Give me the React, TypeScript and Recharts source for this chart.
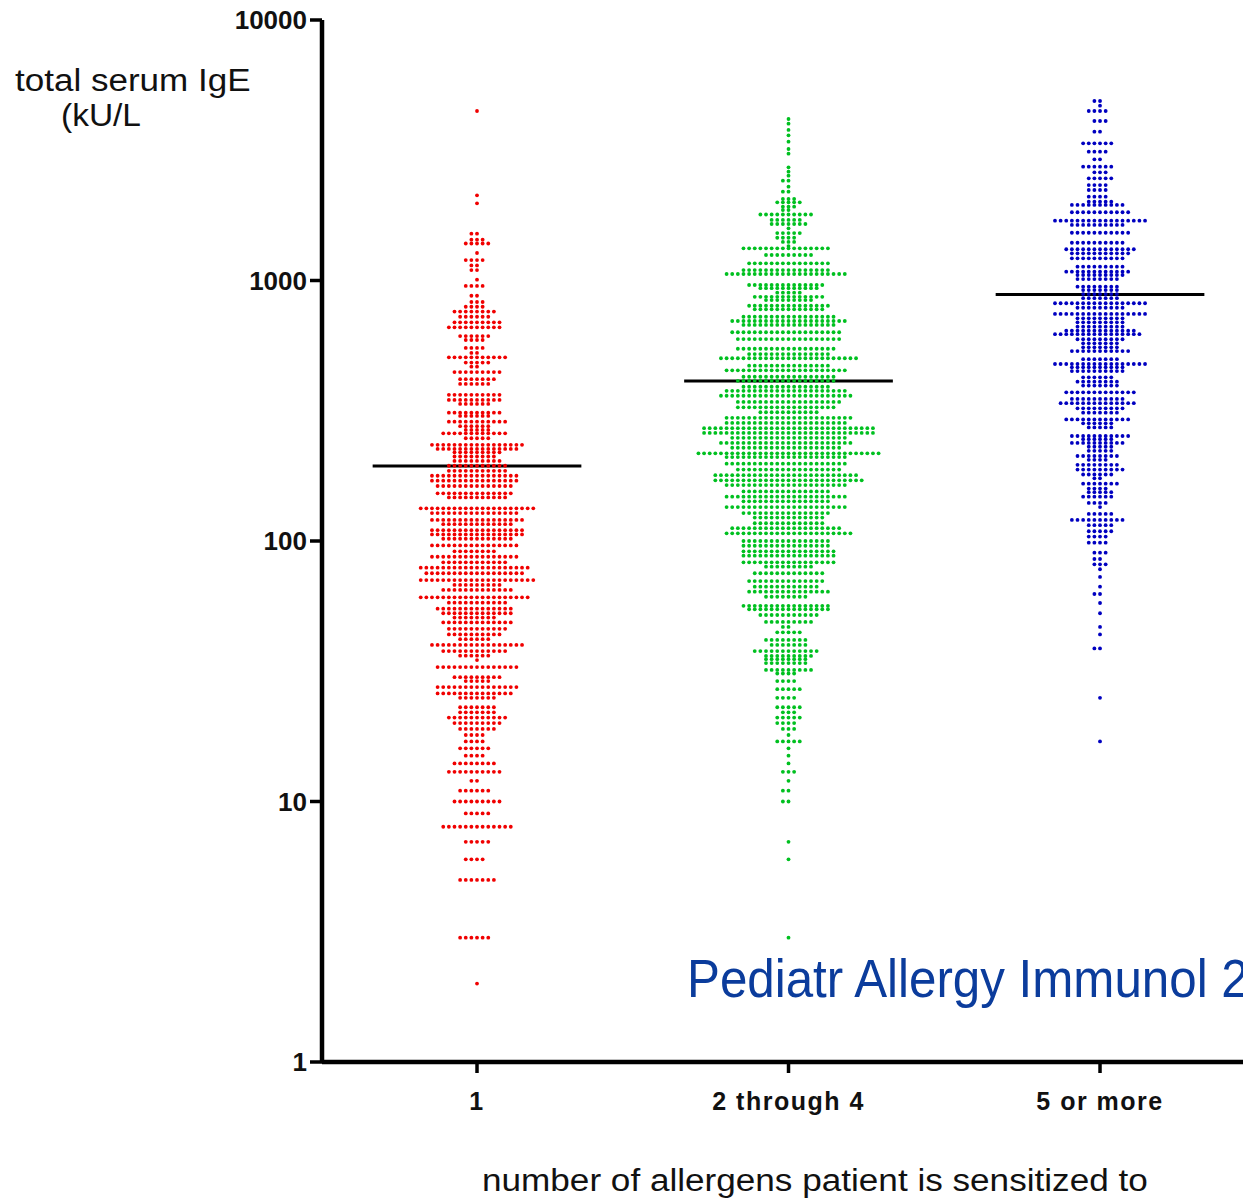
import React from 'react';
import { ScatterChart, Scatter, XAxis, YAxis, ReferenceLine } from 'recharts';

const groups = ['1', '2 through 4', '5 or more'];
const yTicks = [1, 10, 100, 1000, 10000];
const medians = [194, 411, 884];

// [IgE value, how many patients sit side by side at that value]
const redRows = [
    [2, 1], [3, 6], [5, 7], [6, 4], [7, 5], [8, 13], [9, 5], [10, 9], [11, 6], [12, 2], [13, 10], [14, 8],
    [15, 4], [16, 6], [17, 4], [18, 4], [19, 7], [20, 9], [21, 11], [22, 7], [23, 7], [25, 7], [26, 14],
    [27.5, 15], [29, 5], [30, 9], [32.8, 15], [34.9, 1], [36.3, 6], [37.8, 12], [39.9, 17],
    [42, 6], [43.8, 10], [46, 11], [48.7, 13], [50.8, 8], [52.8, 13], [55, 14], [58, 11],
    [60.8, 20], [64.9, 13], [67.8, 9], [70.8, 21], [75.2, 18], [79, 20], [82.8, 12], [87, 16],
    [91.3, 8], [96.2, 16], [102, 13], [106, 17], [110, 17], [116, 13], [120.5, 17], [128, 16], [133.5, 21],
    [147, 11], [152.4, 14], [162.6, 14], [170.4, 16], [178, 16], [186, 11],
    [194.5, 11], [203, 9], [211, 8], [219, 9], [225.6, 15], [234, 17], [248, 5], [259, 12], [267, 5],
    [276, 6], [287, 11], [302, 6], [311, 10], [336, 6], [348, 10], [364, 10], [401, 6], [418, 7],
    [445, 9], [467, 2], [484, 5], [507, 11], [527, 2], [551, 4], [591, 4], [612, 6],
    [661, 10], [691, 9], [726, 6], [760, 8], [793, 4], [827, 3], [874, 2], [953, 4], [1007, 1], [1097, 2],
    [1143, 2], [1198, 4], [1275, 1], [1387, 5], [1434, 3], [1513, 2], [1978, 1], [2124, 1], [4474, 1],
];

const greenRows = [
    [3, 1], [6, 1], [7, 1], [10, 2], [11, 2], [12, 1], [13, 3], [14, 1], [15, 1], [16, 1], [17, 5], [18, 1],
    [19, 3], [20, 4], [21, 5], [22, 3], [23, 5], [25, 4], [27, 5], [29, 4], [31, 4], [32, 9], [34, 8],
    [35.2, 8], [36.2, 9], [37.8, 12], [39.9, 7], [41.7, 8], [44.6, 5], [46.8, 2],
    [48.9, 9], [52, 11], [54.7, 15], [56.4, 16], [61.1, 8], [63.9, 15], [66.8, 12],
    [70.2, 14], [75.2, 13], [79.7, 9], [82.8, 17], [87.8, 17], [91.3, 17], [95.9, 16], [100, 16],
    [107, 23], [112, 20], [117, 13], [123, 13], [128, 16], [135, 22], [142, 16], [148, 22], [155, 16],
    [164, 22], [171, 27], [179, 26], [188, 19], [198, 22], [210, 22], [217, 33],
    [228, 20], [238, 24], [249, 21], [260, 31], [271, 31], [284, 22], [297, 23], [312, 11], [326, 18],
    [342, 19], [361, 24], [377, 22], [391, 16], [412, 18], [427, 17], [452, 22], [471, 15], [503, 25],
    [522, 15], [547, 18], [596, 19], [633, 20], [675, 17], [699, 21], [726, 17], [775, 13], [800, 15],
    [841, 9], [866, 13], [898, 5], [934, 11], [961, 14], [1059, 22], [1097, 16], [1164, 15], [1253, 9],
    [1329, 16], [1356, 1], [1406, 3], [1459, 4], [1521, 5], [1586, 1], [1648, 7], [1708, 6], [1792, 10],
    [1865, 2], [1920, 3], [1996, 5], [2055, 3], [2193, 2], [2291, 1], [2416, 2], [2525, 1], [2617, 1],
    [2720, 1], [3068, 1], [3198, 1], [3412, 1], [3609, 1], [3784, 1], [3999, 1], [4168, 1],
];

const blueRows = [
    [17, 1], [25, 1], [38.7, 2], [43.8, 1], [46.8, 1], [52.8, 1], [57.8, 1], [62.6, 2], [66.8, 1], [72.8, 1],
    [77.9, 1], [81.4, 3], [85.3, 2], [90.2, 3], [98.5, 4], [104, 4], [109, 5], [115, 5], [120.5, 10], [127, 5],
    [135, 1], [140, 4], [148, 6], [154, 5], [159, 4], [166, 7], [174, 2], [180, 6], [188, 9], [196, 8], [205, 4],
    [212, 8], [222, 5], [230, 5], [238, 10], [246, 6], [253, 11], [273, 5], [283, 6], [293, 12], [311, 7],
    [323, 9], [338, 14], [351, 10], [372, 13], [395, 7], [409, 8], [425, 6], [449, 10], [464, 10], [478, 17],
    [499, 7], [536, 11], [554, 7], [574, 7], [595, 9], [622, 16], [642, 13], [665, 9], [691, 9], [716, 9],
    [744, 17], [786, 9], [818, 17], [855, 7], [887, 7], [919, 7], [947, 8], [1013, 8], [1050, 9],
    [1081, 12], [1130, 9], [1217, 10], [1272, 11], [1318, 13], [1396, 10],
    [1525, 11], [1634, 10], [1697, 17], [1828, 11], [1950, 10], [2007, 5],
    [2098, 4], [2225, 4], [2325, 4], [2467, 5], [2602, 3], [2735, 6], [2919, 2], [3123, 4], [3363, 6],
    [3725, 2], [4095, 3], [4474, 4], [4688, 1], [4887, 2],
];

const dotStep = 0.01807; // one dot's width, in group units

const toPoints = (group: number, rows: number[][]) =>
    rows.flatMap(([value, count]) => {
        const first = -Math.floor(count / 2);
        return Array.from({ length: count }, (_, k) => ({
            x: group + (first + k) * dotStep,
            y: value,
        }));
    });

const dot = (color: string) => (props: any) => (
    <circle cx={props.cx} cy={props.cy} r={1.9} fill={color} />
);

const labelFont = '"Liberation Sans", Arial, sans-serif';

const stretched = (left: number, top: number, scale: number): React.CSSProperties => ({
    position: 'absolute',
    left,
    top,
    fontFamily: labelFont,
    fontSize: 31,
    color: '#111',
    whiteSpace: 'nowrap',
    transform: `scaleX(${scale})`,
    transformOrigin: 'left top',
});

const App: React.FC = () => {
    return (
        <div style={{ position: 'absolute', left: 0, top: 0, width: 1243, height: 1199, overflow: 'hidden', background: '#fff' }}>
            <ScatterChart width={1243} height={1199} margin={{ top: 20, right: 0, bottom: 0, left: 0 }}>
                <XAxis
                    type="number"
                    dataKey="x"
                    domain={[-0.4976, 2.459]}
                    allowDataOverflow
                    ticks={[0, 1, 2]}
                    interval={0}
                    tickFormatter={(v) => groups[v]}
                    height={137}
                    tickSize={11}
                    tickMargin={19}
                    axisLine={{ stroke: '#000', strokeWidth: 4.5 }}
                    tickLine={{ stroke: '#000', strokeWidth: 3.5 }}
                    tick={{ fill: '#111', fontFamily: labelFont, fontWeight: 700, fontSize: 25, letterSpacing: 1.5 }}
                />
                <YAxis
                    type="number"
                    dataKey="y"
                    scale="log"
                    domain={[1, 10000]}
                    allowDataOverflow
                    ticks={yTicks}
                    interval={0}
                    width={322}
                    tickSize={12}
                    tickMargin={3}
                    axisLine={{ stroke: '#000', strokeWidth: 4.5 }}
                    tickLine={{ stroke: '#000', strokeWidth: 3.5 }}
                    tick={{ fill: '#111', fontFamily: labelFont, fontWeight: 700, fontSize: 26 }}
                />
                <Scatter data={toPoints(0, redRows)} shape={dot('#f00000')} isAnimationActive={false} />
                <Scatter data={toPoints(1, greenRows)} shape={dot('#00c020')} isAnimationActive={false} />
                <Scatter data={toPoints(2, blueRows)} shape={dot('#0000c0')} isAnimationActive={false} />
                {medians.map((m, i) => (
                    <ReferenceLine
                        key={i}
                        segment={[{ x: i - 0.335, y: m }, { x: i + 0.335, y: m }]}
                        stroke="#000"
                        strokeWidth={3}
                    />
                ))}
            </ScatterChart>
            <div style={stretched(15, 63, 1.13)}>total serum IgE</div>
            <div style={stretched(61, 98, 1.08)}>(kU/L</div>
            <div style={stretched(482, 1163, 1.133)}>number of allergens patient is sensitized to</div>
            <div
                style={{
                    ...stretched(687, 947, 0.913),
                    fontSize: 54,
                    color: '#0b3c9c',
                }}
            >
                Pediatr Allergy Immunol 2
            </div>
        </div>
    );
};

export default App;
